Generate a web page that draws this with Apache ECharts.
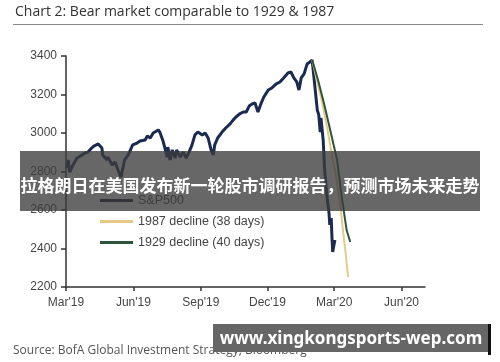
<!DOCTYPE html>
<html>
<head>
<meta charset="utf-8">
<script src="https://cdn.jsdelivr.net/npm/echarts@6/dist/echarts.min.js"></script>
<style>
html,body{margin:0;padding:0;background:#fff;}
#main{width:500px;height:362px;}
</style>
</head>
<body>
<div id="main"></div>
<script>
// 刻度
var xTickDays = [0, 92, 184, 275, 366, 458]; // 距 2019-03-01 的天数
var xTickLabels = ["Mar'19", "Jun'19", "Sep'19", "Dec'19", "Mar'20", "Jun'20"];

// S&P500
var spxDay = [1, 3, 5, 8, 15, 22, 26, 30, 35, 38, 44, 46, 49, 50, 56, 57, 63, 67, 71, 75,
	80, 85, 91, 97, 101, 108, 111, 115, 119, 121, 126, 128, 132, 135, 138, 139, 142, 145, 149, 151,
	156, 160, 164, 168, 172, 176, 180, 186, 190, 194, 198, 201, 203, 207, 213, 218, 224, 228, 232, 237,
	242, 246, 250, 254, 258, 262, 266, 270, 276, 281, 287, 292, 297, 303, 307, 311, 315, 318, 321, 325,
	329, 333, 336, 338, 343, 345, 347, 348, 351, 353, 356, 359, 360, 362, 363, 364, 367];
var spxValue = [2818, 2860, 2797, 2823, 2870, 2886, 2896, 2901, 2922, 2932, 2943, 2938, 2922, 2886, 2860, 2875, 2834, 2849, 2808, 2771,
	2860, 2886, 2938, 2948, 2958, 2964, 2984, 2974, 3000, 3010, 3016, 3005, 2964, 2922, 2875, 2927, 2860, 2912, 2870, 2912,
	2875, 2901, 2870, 2901, 2938, 2990, 3005, 2990, 3000, 2974, 2912, 2886, 2938, 2974, 3005, 3026, 3047, 3067, 3083, 3099,
	3109, 3109, 3140, 3151, 3156, 3109, 3151, 3187, 3223, 3234, 3255, 3265, 3286, 3312, 3317, 3286, 3265, 3223, 3286, 3307,
	3358, 3369, 3379, 3369, 3119, 3094, 3005, 3078, 2964, 2808, 2678, 2584, 2522, 2558, 2460, 2382, 2444];

// 1987 decline (38 days)
var d1987Day = [336, 344, 349, 357, 364, 367, 374, 378, 382, 385];
var d1987Value = [3379, 3249, 3171, 3016, 2860, 2808, 2636, 2496, 2366, 2252];

// 1929 decline (40 days)
var d1929Day = [336, 344, 352, 360, 370, 375, 379, 383, 388];
var d1929Value = [3379, 3275, 3156, 3026, 2860, 2704, 2600, 2496, 2434];

function pairs(days, vals) {
	return days.map(function (d, i) { return [d, vals[i]]; });
}

var chart = echarts.init(document.getElementById('main'));
var option = {
	animation: false,
	backgroundColor: '#fff',
	textStyle: { fontFamily: 'Liberation Sans' },
	grid: { left: 66, top: 56, right: 75, bottom: 75 },
	legend: {
		orient: 'vertical',
		left: 95,
		top: 189,
		itemWidth: 33,
		itemHeight: 3,
		itemGap: 8,
		icon: 'rect',
		textStyle: { color: '#444', fontSize: 12.5, fontFamily: 'Liberation Sans' },
		data: ['S&P500', '1987 decline (38 days)', '1929 decline (40 days)']
	},
	xAxis: {
		type: 'value',
		min: 0,
		max: 490,
		axisLine: { lineStyle: { color: '#333', width: 1.5 } },
		axisTick: { show: true, customValues: xTickDays, length: 4, lineStyle: { color: '#333', width: 1.5 } },
		axisLabel: {
			customValues: xTickDays,
			color: '#444',
			fontSize: 12,
			margin: 10,
			formatter: function (v) {
				var i = xTickDays.indexOf(v);
				return i >= 0 ? xTickLabels[i] : '';
			}
		},
		splitLine: { show: false }
	},
	yAxis: {
		type: 'value',
		min: 2200,
		max: 3400,
		interval: 200,
		axisLine: { show: true, lineStyle: { color: '#333', width: 1.5 } },
		axisTick: { show: true, length: 5, lineStyle: { color: '#333', width: 1.5 } },
		axisLabel: { color: '#444', fontSize: 12, margin: 9, formatter: function (v) { return String(v); } },
		splitLine: { show: false }
	},
	series: [{
		name: 'S&P500',
		type: 'line',
		showSymbol: false,
		data: pairs(spxDay, spxValue),
		itemStyle: { color: '#111a2e' },
		lineStyle: { color: '#1a2a50', width: 3 }
	}, {
		name: '1987 decline (38 days)',
		type: 'line',
		showSymbol: false,
		data: pairs(d1987Day, d1987Value),
		itemStyle: { color: '#e6c987' },
		lineStyle: { color: '#e6c987', width: 2 }
	}, {
		name: '1929 decline (40 days)',
		type: 'line',
		showSymbol: false,
		data: pairs(d1929Day, d1929Value),
		itemStyle: { color: '#2e553c' },
		lineStyle: { color: '#2e553c', width: 2 }
	}],
	graphic: [
		// 标题
		{ type: 'text', left: 15, top: 5, style: { text: 'Chart 2: Bear market comparable to 1929 & 1987', fill: '#333', font: '14px "Open Sans"' } },
		{ type: 'line', shape: { x1: 13, y1: 24.5, x2: 483, y2: 24.5 }, style: { stroke: '#888', lineWidth: 1 } },
		// 来源
		{ type: 'text', left: 13, top: 345, style: { text: 'Source: BofA Global Investment Strategy, Bloomberg', fill: '#555', font: '12px "Open Sans"' } },
		// 横幅
		{ type: 'rect', z: 100, shape: { x: 20, y: 151, width: 460, height: 60 }, style: { fill: 'rgba(60,60,60,0.78)' } },
		{ type: 'text', z: 101, x: 250, y: 186, style: { text: '拉格朗日在美国发布新一轮股市调研报告，预测市场未来走势', fill: '#fff', font: 'bold 17px "Noto Sans CJK SC"', textAlign: 'center', textVerticalAlign: 'middle' } },
		// 水印
		{ type: 'rect', z: 100, shape: { x: 213, y: 324, width: 277, height: 28 }, style: { fill: '#666' } },
		{ type: 'rect', z: 101, shape: { x: 488, y: 324, width: 3, height: 31 }, style: { fill: '#111' } },
		{ type: 'text', z: 101, x: 351, y: 339, style: { text: 'www.xingkongsports-wep.com', fill: '#fff', font: 'bold 17px "Noto Sans"', textAlign: 'center', textVerticalAlign: 'middle' } }
	]
};
chart.setOption(option);
</script>
</body>
</html>
